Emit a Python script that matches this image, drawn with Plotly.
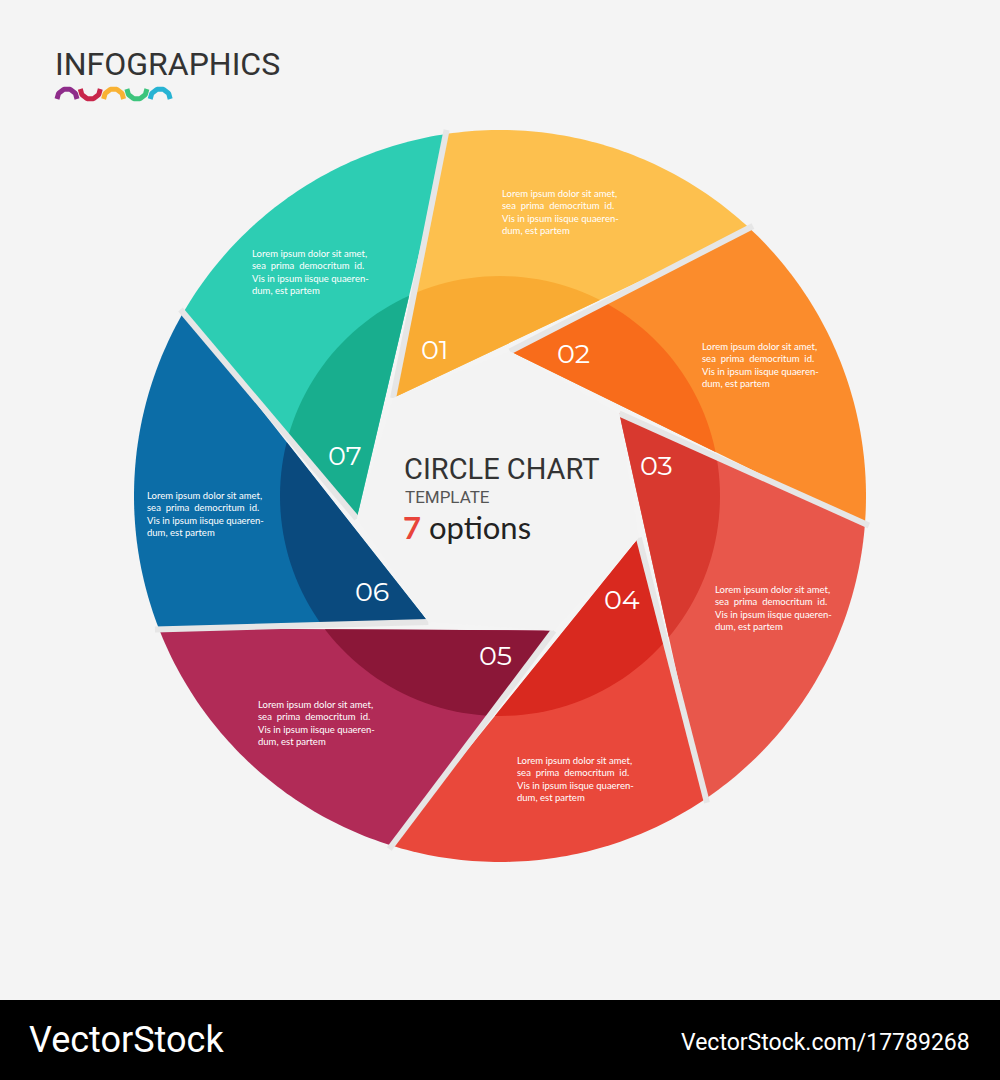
import numpy as np
import plotly.graph_objects as go

labels = ["01", "02", "03", "04", "05", "06", "07"]
light_colors = ["#FDC04E", "#FB8C2C", "#E8574B", "#E9483B", "#B12B57", "#0C6DA7", "#2DCDB3"]
dark_colors = ["#F9AB33", "#F86C1B", "#D8392F", "#D9291F", "#8B1738", "#0A4A7E", "#18AE8E"]
text_pos = [(500, 212), (700, 365), (713, 608), (515, 779), (256, 723), (145, 514), (250, 272)]
lorem = "Lorem ipsum dolor sit amet,<br>sea  prima  democritum  id.<br>Vis in ipsum iisque quaeren-<br>dum, est partem"

CX, CY = 500, 496
R_OUT, R_MID, R_TIP, R_LAB = 366, 220, 145, 160
A0, T0, L0 = -8.3, -47.5, -24.0
STEP = 360 / 7


def pt(r, deg):
    a = np.radians(deg)
    return CX + r * np.sin(a), CY - r * np.cos(a)


def clip(poly, clipper):
    out = poly
    n = len(clipper)
    for i in range(n):
        a, b = clipper[i], clipper[(i + 1) % n]
        inp, out = out, []
        if not inp:
            break
        def inside(p):
            return (b[0] - a[0]) * (p[1] - a[1]) - (b[1] - a[1]) * (p[0] - a[0]) >= 0
        def inter(p, q):
            x1, y1 = p; x2, y2 = q; x3, y3 = a; x4, y4 = b
            d = (x1 - x2) * (y3 - y4) - (y1 - y2) * (x3 - x4)
            t = ((x1 - x3) * (y3 - y4) - (y1 - y3) * (x3 - x4)) / d
            return (x1 + t * (x2 - x1), y1 + t * (y2 - y1))
        s = inp[-1]
        for e in inp:
            if inside(e):
                if not inside(s):
                    out.append(inter(s, e))
                out.append(e)
            elif inside(s):
                out.append(inter(s, e))
            s = e
    return out


fig = go.Figure()
circle = [pt(R_MID, d) for d in np.linspace(0, 360, 180, endpoint=False)]
if (circle[1][0] - circle[0][0]) * (circle[2][1] - circle[0][1]) - (circle[1][1] - circle[0][1]) * (circle[2][0] - circle[0][0]) < 0:
    circle = circle[::-1]

for i in range(7):
    a1 = A0 + STEP * i
    arc = [pt(R_OUT, d) for d in np.linspace(a1, a1 + STEP, 60)]
    tip = pt(R_TIP, T0 + STEP * i)
    poly = arc + [tip]
    xs, ys = zip(*(poly + [poly[0]]))
    fig.add_trace(go.Scatter(x=xs, y=ys, fill="toself", fillcolor=light_colors[i], mode="none", hoverinfo="skip"))
    inner = clip(poly, circle)
    if inner:
        xs, ys = zip(*(inner + [inner[0]]))
        fig.add_trace(go.Scatter(x=xs, y=ys, fill="toself", fillcolor=dark_colors[i], mode="none", hoverinfo="skip"))

for i in range(7):
    a = pt(R_OUT + 4, A0 + STEP * i)
    t = pt(R_TIP, T0 + STEP * i)
    fig.add_trace(go.Scatter(x=[a[0], t[0]], y=[a[1], t[1]], mode="lines", line=dict(color="#E6E6E6", width=6), hoverinfo="skip"))

hx, hy = zip(*[pt(R_TIP, T0 + STEP * i) for i in range(8)])
fig.add_trace(go.Scatter(x=hx, y=hy, fill="toself", fillcolor="#F3F3F3", mode="none", hoverinfo="skip"))

# small logo arcs
arc_colors = ["#8E2C8A", "#C8264B", "#F9B233", "#3CC47C", "#27B3D3"]
for k, c in enumerate(arc_colors):
    cx = 67 + k * 23.3
    th = np.linspace(0, np.pi, 30)
    sgn = -1 if k % 2 == 0 else 1
    fig.add_trace(go.Scatter(x=cx + 10 * np.cos(th), y=99 + sgn * 10 * np.sin(th) + (0 if sgn < 0 else -10),
                             mode="lines", line=dict(color=c, width=5), hoverinfo="skip"))

ann = []
for i in range(7):
    lx, ly = pt(R_LAB, L0 + STEP * i)
    ann.append(dict(x=lx, y=ly, text=labels[i], showarrow=False, font=dict(family="Montserrat, Lato", size=27, color="white")))
    tx, ty = text_pos[i]
    ann.append(dict(x=tx, y=ty, text=lorem, showarrow=False, xanchor="left", align="left",
                    font=dict(family="Lato", size=9.5, color="white")))

ann += [
    dict(x=53, y=64, text="INFOGRAPHICS", xanchor="left", showarrow=False, font=dict(family="Roboto", size=32, color="#333333")),
    dict(x=402, y=469, text="CIRCLE CHART", xanchor="left", showarrow=False, font=dict(family="Roboto", size=29, color="#333333")),
    dict(x=403, y=497, text="TEMPLATE", xanchor="left", showarrow=False, font=dict(family="Roboto", size=17, color="#555555")),
    dict(x=401, y=527, text="<b><span style='color:#E8443A'>7</span></b> options", xanchor="left", showarrow=False,
         font=dict(family="Lato", size=31, color="#222222")),
    dict(x=27, y=1040, text="VectorStock", xanchor="left", showarrow=False, font=dict(family="Roboto", size=36, color="white")),
    dict(x=972, y=1042, text="VectorStock.com/17789268", xanchor="right", showarrow=False, font=dict(family="Roboto", size=23, color="white")),
]

fig.update_layout(
    width=1000, height=1080, margin=dict(l=0, r=0, t=0, b=0), showlegend=False,
    paper_bgcolor="#F4F4F4", plot_bgcolor="#F4F4F4", annotations=ann,
    shapes=[dict(type="rect", x0=0, x1=1000, y0=1000, y1=1080, fillcolor="black", line_width=0, layer="below")],
    xaxis=dict(range=[0, 1000], visible=False, fixedrange=True),
    yaxis=dict(range=[1080, 0], visible=False, fixedrange=True),
)
fig.write_html("out.html", config={"displayModeBar": False},
               post_script="document.body.style.margin='0';document.body.style.overflow='hidden';")
